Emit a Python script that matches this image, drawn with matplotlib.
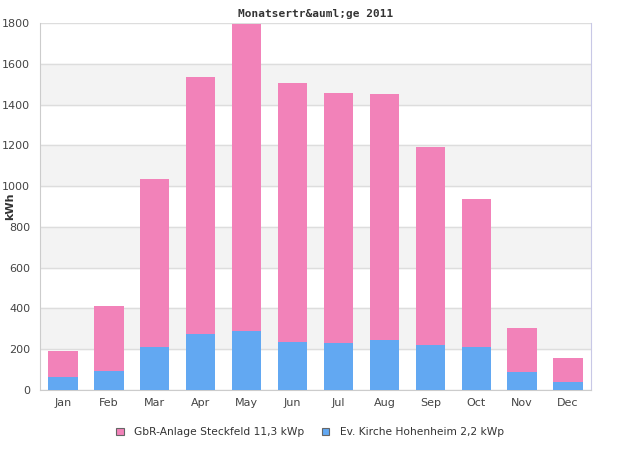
import matplotlib
matplotlib.use("Agg")
import matplotlib.pyplot as plt
import numpy as np

months = ["Jan", "Feb", "Mar", "Apr", "May", "Jun",
          "Jul", "Aug", "Sep", "Oct", "Nov", "Dec"]
# monthly totals (top of stack) and the blue part
total = [191, 412, 1036, 1535, 1797, 1506, 1457, 1452, 1192, 938, 304, 157]
kirche = [64, 93, 211, 276, 289, 237, 230, 247, 221, 211, 90, 41]
steckfeld = [t - k for t, k in zip(total, kirche)]

pink = "#F282B9"
blue = "#62A8F2"

fig = plt.figure(figsize=(6.2, 4.5), dpi=100)
ax = fig.add_axes([40 / 620, 60 / 450, 551 / 620, 367 / 450])

x = np.arange(len(months))
ax.bar(x, kirche, width=0.64, color=blue, zorder=3,
       label="Ev. Kirche Hohenheim 2,2 kWp")
ax.bar(x, steckfeld, width=0.64, bottom=kirche, color=pink, zorder=3,
       label="GbR-Anlage Steckfeld 11,3 kWp")

ax.set_xlim(-0.5, 11.5)
ax.set_ylim(0, 1800)
ax.set_yticks(range(0, 1801, 200))
for lo in range(200, 1800, 400):
    ax.axhspan(lo, lo + 200, color="#F3F3F3", zorder=0)
ax.yaxis.grid(True, color="#DDDDDD", linewidth=1, zorder=1)
ax.set_xticks(x)
ax.set_xticklabels(months)
ax.tick_params(length=0, labelsize=8, labelcolor="#444444", pad=6)
ax.tick_params(axis="y", pad=7)

for s in ["left", "bottom"]:
    ax.spines[s].set_color("#CCCCCC")
ax.spines["right"].set_color("#C8C8E6")
ax.spines["top"].set_visible(False)

# y label sits over the tick labels' column, like the original
fig.text(10 / 620, 1 - 206 / 450, "kWh", rotation=90, fontsize=8,
         fontweight="bold", color="#333333", ha="center", va="center")
ax.set_title("Monatsertr&auml;ge 2011", fontsize=8, fontweight="bold",
             family="DejaVu Sans Mono", color="#333333", pad=4)

handles, labels = ax.get_legend_handles_labels()
leg = fig.legend(handles[::-1], labels[::-1], loc="center", bbox_to_anchor=(0.5, 18 / 450),
                 ncol=2, frameon=False, fontsize=7.7, handlelength=0.7, handleheight=0.7,
                 columnspacing=1.6, handletextpad=1.0)
for h in leg.legend_handles:
    h.set_edgecolor("#666666")
    h.set_linewidth(0.8)
for t in leg.get_texts():
    t.set_color("#333333")

fig.savefig("out.png", dpi=100)
